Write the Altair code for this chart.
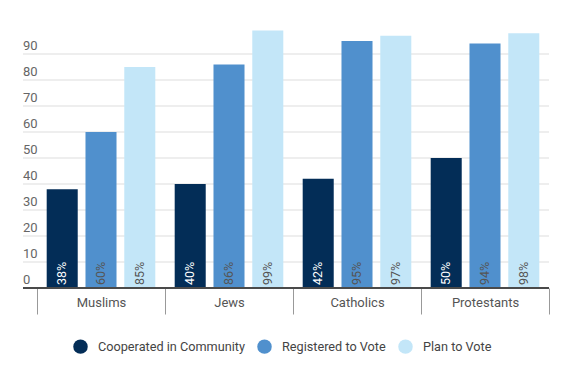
import altair as alt
import pandas as pd

groups = ["Muslims", "Jews", "Catholics", "Protestants"]
series = ["Cooperated in Community", "Registered to Vote", "Plan to Vote"]
cooperated = [38, 40, 42, 50]
registered = [60, 86, 95, 94]
plan = [85, 99, 97, 98]
tick_values = [10, 20, 30, 40, 50, 60, 70, 80, 90]
colors = ["#032D57", "#5090CD", "#C3E6F8"]

rows = []
for i, g in enumerate(groups):
    for s, vals in zip(series, [cooperated, registered, plan]):
        rows.append({"group": g, "series": s, "value": vals[i], "base": 0,
                     "label": f"{vals[i]}%"})
df = pd.DataFrame(rows)
ticks = pd.DataFrame({"v": tick_values})
ticks_all = pd.DataFrame({"v": [0] + tick_values})
zero = pd.DataFrame({"v": [0]})

FONT = "Roboto"
yscale = alt.Scale(domain=[0, 100], nice=False)
xaxis = alt.Axis(title=None, domain=False, tickBand="extent", tickSize=26, tickColor="#999999",
                 tickWidth=1, labelPadding=-18, labelFontSize=13, labelColor="#555555",
                 labelFont=FONT, labelAngle=0, grid=False)
xenc = alt.X("group:N", sort=groups, axis=xaxis,
             scale=alt.Scale(paddingInner=0, paddingOuter=0))
xoff = alt.XOffset("series:N", sort=series,
                   scale=alt.Scale(paddingInner=0.2, paddingOuter=0.25))

grid = alt.Chart(ticks).mark_rule(color="#dddddd", strokeWidth=1).encode(
    y=alt.Y("v:Q", scale=yscale, axis=None),
    x=alt.value(-14), x2=alt.value(512),
)
ylabels = alt.Chart(ticks_all).mark_text(
    align="left", baseline="alphabetic", dy=-4, fontSize=13, font=FONT, color="#666666"
).encode(
    y=alt.Y("v:Q", scale=yscale, axis=None),
    x=alt.value(-14),
    text=alt.Text("v:Q"),
)
bars = alt.Chart(df).mark_bar().encode(
    x=xenc,
    xOffset=xoff,
    y=alt.Y("value:Q", scale=yscale, axis=None),
    color=alt.Color("series:N", sort=series,
                    scale=alt.Scale(domain=series, range=colors),
                    legend=alt.Legend(title=None, orient="none", legendX=36, legendY=311,
                                      direction="horizontal", symbolType="circle",
                                      symbolSize=210, symbolStrokeWidth=0,
                                      labelFont=FONT, labelFontSize=12.7, labelColor="#444444",
                                      labelOffset=10, columnPadding=12, padding=0)),
)
texts = alt.Chart(df).mark_text(
    angle=270, align="left", baseline="middle", dx=3, fontSize=12.5, font=FONT
).encode(
    x=xenc,
    xOffset=xoff,
    y=alt.Y("base:Q", scale=yscale, axis=None),
    text="label:N",
    color=alt.condition(alt.datum.series == "Cooperated in Community",
                        alt.value("#ffffff"), alt.value("#555555")),
)
zline = alt.Chart(zero).mark_rule(color="#4a4a4a", strokeWidth=2).encode(
    y=alt.Y("v:Q", scale=yscale, axis=None),
    x=alt.value(-14), x2=alt.value(512),
)

chart = alt.layer(grid, ylabels, bars, texts, zline).properties(
    width=512, height=260,
    autosize=alt.AutoSizeParams(type="none"),
    padding={"left": 29, "top": 20, "right": 24, "bottom": 76},
).configure(font=FONT).configure_view(stroke=None)

chart.save("out.html", embed_options={"renderer": "svg", "actions": False})
